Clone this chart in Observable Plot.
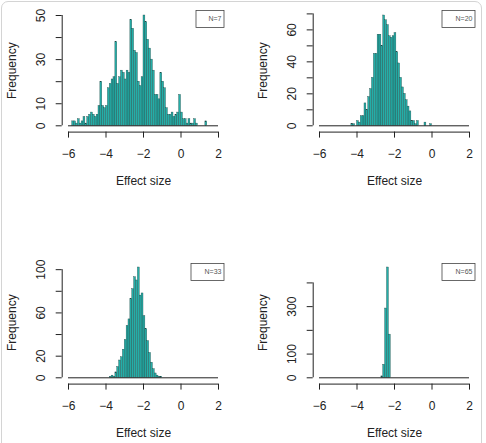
<!DOCTYPE html>
<html>
<head>
<meta charset="utf-8">
<script src="https://cdn.jsdelivr.net/npm/d3@7"></script>
<script src="https://cdn.jsdelivr.net/npm/@observablehq/plot@0.6"></script>
<style>
  html, body { margin: 0; padding: 0; background: #ffffff; }
  #figure {
    position: relative; width: 486px; height: 443px; overflow: hidden;
    font-family: "Liberation Sans", Arial, Helvetica, sans-serif;
  }
  #border {
    position: absolute; left: 1px; top: 1px; width: 479px; height: 480px;
    border: 1px solid #d4d4d4; border-radius: 7px;
  }
  .panel { position: absolute; }
</style>
</head>
<body>
<div id="figure"><div id="border"></div></div>
<script>
// Histogram bins are 0.1 wide; each panel lists counts from its first non-empty bin.
const binWidth = 0.1;
const xTicks = [-6, -4, -2, 0, 2];

// N = 7
const startN7 = -5.8;
const countsN7 = [
  2, 2, 1, 3, 1, 2, 4, 1, 4, 5,
  6, 5, 4, 5, 9, 20, 9, 8, 9, 17,
  19, 21, 22, 38, 19, 22, 25, 24, 21, 25,
  24, 48, 44, 34, 33, 20, 18, 22, 50, 47,
  39, 35, 30, 25, 14, 14, 12, 24, 20, 17,
  8, 5, 5, 6, 4, 5, 6, 14, 6, 3,
  3, 1, 3, 1, 1, 3, 1, 0, 0, 0,
  0, 2
];
const yTicksN7 = [0, 10, 20, 30, 40, 50];
const yLabelsN7 = [0, 10, 30, 50];

// N = 20
const startN20 = -4.3;
const countsN20 = [
  1, 1, 0, 3, 2, 6, 6, 14, 10, 18,
  23, 30, 45, 45, 57, 57, 50, 69, 66, 63,
  56, 55, 56, 58, 46, 39, 30, 24, 20, 16,
  12, 9, 3, 3, 1, 3, 0, 0, 0, 2,
  0, 0, 1
];
const yTicksN20 = [0, 10, 20, 30, 40, 50, 60, 70];
const yLabelsN20 = [0, 20, 40, 60];

// N = 33
const startN33 = -3.8;
const countsN33 = [
  1, 2, 1, 5, 10, 16, 19, 26, 35, 48,
  54, 73, 82, 93, 90, 102, 76, 78, 57, 45,
  34, 23, 14, 8, 4, 2, 1, 1
];
const yTicksN33 = [0, 20, 40, 60, 80, 100];
const yLabelsN33 = [0, 20, 60, 100];

// N = 65
const startN65 = -2.7;
const countsN65 = [6, 55, 292, 465, 182];
const yTicksN65 = [0, 100, 200, 300, 400];
const yLabelsN65 = [0, 100, 300];

const panels = [
  {label: "N=7",  start: startN7,  counts: countsN7,  yTicks: yTicksN7,  yLabels: yLabelsN7,  left: 0,     top: 0,   boxTop: 10, boxWidth: 28},
  {label: "N=20", start: startN20, counts: countsN20, yTicks: yTicksN20, yLabels: yLabelsN20, left: 251.3, top: 0,   boxTop: 10, boxWidth: 33},
  {label: "N=33", start: startN33, counts: countsN33, yTicks: yTicksN33, yLabels: yLabelsN33, left: 0,     top: 252, boxTop: 11, boxWidth: 33},
  {label: "N=65", start: startN65, counts: countsN65, yTicks: yTicksN65, yLabels: yLabelsN65, left: 251.3, top: 252, boxTop: 11, boxWidth: 33}
];

const fmt = d => d < 0 ? "\u2212" + Math.abs(d) : String(d);
const ink = "#222";
const barFill = "#24aea8";
const barEdge = "#1d4341";

const W = 234, H = 191;
const mLeft = 68, mRight = 16, mTop = 15, mBottom = 65.7;
const frameRight = W - mRight;
const frameBottom = H - mBottom;
const axisGap = 6.3;

const figure = document.getElementById("figure");

for (const p of panels) {
  const bins = p.counts
    .map((count, i) => {
      const x1 = +(p.start + i * binWidth).toFixed(2);
      return {x1, x2: +(x1 + binWidth).toFixed(2), count};
    })
    .filter(d => d.count > 0);

  const yMax = d3.max(p.counts);
  const boxRight = 223.5;
  const boxLeft = boxRight - p.boxWidth;
  const boxBottom = p.boxTop + 17;

  const chart = Plot.plot({
    width: W,
    height: H,
    marginLeft: mLeft,
    marginRight: mRight,
    marginTop: mTop,
    marginBottom: mBottom,
    style: {
      background: "transparent",
      color: ink,
      fontFamily: "\"Liberation Sans\", Arial, Helvetica, sans-serif",
      fontSize: "12px",
      overflow: "visible"
    },
    x: {domain: [-6, 2], label: null},
    y: {domain: [0, yMax], label: null},
    marks: [
      // bars
      Plot.rectY(bins, {x1: "x1", x2: "x2", y: "count", fill: barFill, stroke: barEdge, strokeWidth: 0.35}),
      // baseline under the bars across the full range
      Plot.ruleY([0], {stroke: ink, strokeWidth: 1}),
      // x axis
      Plot.ruleY([0], {x1: -6, x2: 2, dy: axisGap, stroke: ink, strokeWidth: 1}),
      Plot.axisX({ticks: xTicks, tickSize: 6, tickPadding: 11, dy: axisGap, tickFormat: fmt, fontSize: 12, label: null, stroke: ink}),
      Plot.text(["Effect size"], {frameAnchor: "bottom", dy: 55.7, lineAnchor: "middle", fontSize: 12, fill: ink}),
      // y axis
      Plot.ruleX([-6], {y1: 0, y2: p.yTicks[p.yTicks.length - 1], dx: -axisGap, stroke: ink, strokeWidth: 1}),
      Plot.axisY({ticks: p.yTicks, tickSize: 6, dx: -axisGap, tickFormat: () => "", label: null, stroke: ink}),
      Plot.text(p.yLabels, {y: d => d, text: d => fmt(d), frameAnchor: "left", dx: -27, rotate: -90, textAnchor: "middle", lineAnchor: "middle", fontSize: 12, fill: ink}),
      Plot.text(["Frequency"], {frameAnchor: "left", dx: -56, rotate: -90, textAnchor: "middle", lineAnchor: "middle", fontSize: 12, fill: ink}),
      // legend box
      Plot.frame({
        insetLeft: boxLeft - mLeft,
        insetRight: frameRight - boxRight,
        insetTop: p.boxTop - mTop,
        insetBottom: frameBottom - boxBottom,
        stroke: "#444",
        strokeWidth: 0.8
      }),
      Plot.text([p.label], {frameAnchor: "top-right", dx: 3, dy: p.boxTop + 8.5 - mTop, textAnchor: "end", lineAnchor: "middle", fontSize: 7, fill: "#555"})
    ]
  });

  const holder = document.createElement("div");
  holder.className = "panel";
  holder.style.left = p.left + "px";
  holder.style.top = p.top + "px";
  holder.appendChild(chart);
  figure.appendChild(holder);
}
</script>
</body>
</html>
